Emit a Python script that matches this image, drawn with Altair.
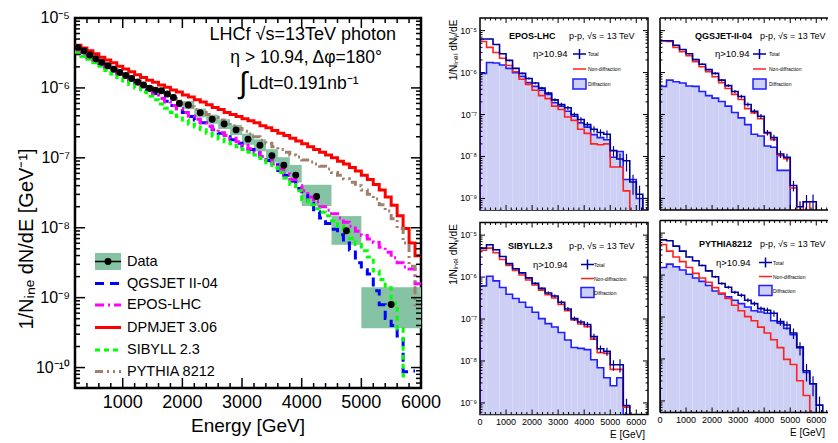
import altair as alt
import pandas as pd

FONT = "Liberation Sans"

# ---------------- Left panel: LHCf photon data ----------------
data_lo = [200, 300, 400, 500, 600, 700, 800, 900, 1000, 1100, 1200, 1300, 1400, 1500, 1600,
           1700, 1800, 1900, 2000, 2200, 2400, 2600, 2800, 3000, 3200, 3400, 3600, 3800,
           4000, 4500, 5000]
data_hi = [300, 400, 500, 600, 700, 800, 900, 1000, 1100, 1200, 1300, 1400, 1500, 1600, 1700,
           1800, 1900, 2000, 2200, 2400, 2600, 2800, 3000, 3200, 3400, 3600, 3800, 4000,
           4500, 5000, 6000]
data_val = [3.80e-6, 3.37e-6, 2.96e-6, 2.61e-6, 2.32e-6, 2.08e-6, 1.85e-6, 1.66e-6, 1.51e-6,
            1.36e-6, 1.22e-6, 1.10e-6, 9.9e-7, 9.3e-7, 9.1e-7, 8.2e-7, 7.3e-7, 6.0e-7,
            5.7e-7, 4.4e-7, 3.57e-7, 3.04e-7, 2.51e-7, 1.85e-7, 1.51e-7, 1.07e-7, 7.85e-8,
            5.66e-8, 2.80e-8, 9.06e-9, 7.96e-10]
sys_up = [0.08, 0.08, 0.08, 0.08, 0.08, 0.08, 0.08, 0.08, 0.08, 0.08, 0.08, 0.08, 0.09, 0.10,
          0.10, 0.10, 0.11, 0.13, 0.14, 0.15, 0.16, 0.17, 0.18, 0.20, 0.22, 0.24, 0.30, 0.40,
          0.47, 0.62, 0.77]
sys_dn = [0.07, 0.07, 0.07, 0.07, 0.07, 0.07, 0.07, 0.07, 0.07, 0.07, 0.07, 0.07, 0.08, 0.09,
          0.09, 0.09, 0.10, 0.12, 0.13, 0.14, 0.14, 0.15, 0.16, 0.17, 0.18, 0.20, 0.22, 0.22,
          0.27, 0.37, 0.54]

# Model predictions, log10(1/N dN/dE), 100 GeV bins from 200 to 6000 GeV
model_first_edge = 200
model_bin = 100
qgsjet = [-5.47, -5.51, -5.56, -5.60, -5.65, -5.70, -5.74, -5.79, -5.84, -5.89,
          -5.93, -5.98, -6.03, -6.08, -6.13, -6.19, -6.25, -6.30, -6.35, -6.41,
          -6.46, -6.50, -6.55, -6.60, -6.65, -6.70, -6.74, -6.79, -6.84, -6.88,
          -6.93, -6.98, -7.04, -7.10, -7.18, -7.25, -7.33, -7.44, -7.52, -7.65,
          -7.77, -7.86, -7.94, -8.02, -8.10, -8.22, -8.32, -8.50, -8.60, -8.66,
          -8.90, -9.10, -9.30, -9.40, -9.55, -10.06, -10.05, None]
epos = [-5.47, -5.52, -5.56, -5.61, -5.66, -5.71, -5.75, -5.80, -5.85, -5.90,
        -5.95, -5.99, -6.04, -6.09, -6.15, -6.20, -6.25, -6.30, -6.35, -6.40,
        -6.45, -6.50, -6.55, -6.59, -6.64, -6.68, -6.72, -6.77, -6.82, -6.87,
        -6.92, -6.98, -7.03, -7.09, -7.16, -7.23, -7.31, -7.40, -7.47, -7.56,
        -7.63, -7.70, -7.75, -7.80, -7.86, -7.92, -7.98, -8.05, -8.11, -8.16,
        -8.21, -8.28, -8.35, -8.43, -8.50, -8.56, -8.59, -8.80]
dpmjet = [-5.39, -5.43, -5.47, -5.51, -5.56, -5.60, -5.64, -5.69, -5.73, -5.77,
          -5.81, -5.85, -5.89, -5.92, -5.96, -5.99, -6.03, -6.06, -6.10, -6.13,
          -6.17, -6.20, -6.24, -6.28, -6.31, -6.35, -6.38, -6.41, -6.44, -6.47,
          -6.50, -6.54, -6.57, -6.61, -6.65, -6.68, -6.72, -6.76, -6.80, -6.84,
          -6.88, -6.92, -6.96, -7.00, -7.05, -7.09, -7.14, -7.19, -7.25, -7.31,
          -7.38, -7.46, -7.56, -7.68, -7.83, -8.01, -8.22, -8.40]
sibyll = [-5.50, -5.55, -5.59, -5.64, -5.69, -5.75, -5.80, -5.85, -5.90, -5.95,
          -6.00, -6.06, -6.12, -6.17, -6.23, -6.29, -6.35, -6.41, -6.46, -6.52,
          -6.56, -6.60, -6.65, -6.69, -6.73, -6.77, -6.80, -6.84, -6.88, -6.92,
          -6.96, -7.01, -7.07, -7.14, -7.21, -7.29, -7.38, -7.47, -7.60, -7.67,
          -7.73, -7.78, -7.83, -7.90, -7.98, -8.06, -8.15, -8.24, -8.33, -8.42,
          -8.62, -8.74, -8.86, -9.08, -9.45, -10.12, None, None]
pythia = [-5.46, -5.50, -5.55, -5.59, -5.64, -5.68, -5.72, -5.77, -5.81, -5.86,
          -5.90, -5.94, -5.99, -6.03, -6.07, -6.11, -6.15, -6.19, -6.23, -6.27,
          -6.31, -6.35, -6.38, -6.42, -6.46, -6.50, -6.54, -6.58, -6.62, -6.66,
          -6.70, -6.75, -6.79, -6.84, -6.88, -6.92, -6.96, -6.99, -7.03, -7.06,
          -7.09, -7.12, -7.16, -7.21, -7.25, -7.30, -7.35, -7.40, -7.46, -7.52,
          -7.59, -7.67, -7.76, -7.87, -8.01, -8.22, -8.55, -9.10]

model_names = ["QGSJET II-04", "EPOS-LHC", "DPMJET 3.06", "SIBYLL 2.3", "PYTHIA 8212"]
model_vals = [qgsjet, epos, dpmjet, sibyll, pythia]
model_colors = ["#0000ff", "#ff00ff", "#ff0000", "#00ff00", "#a0806c"]
model_dash = [[9, 6], [9, 4, 2, 4], [1, 0], [5, 4], [8, 4, 2, 4, 2, 4]]

left_y_ticks = [1e-10, 1e-9, 1e-8, 1e-7, 1e-6, 1e-5]
left_y_labels = ["10⁻¹⁰", "10⁻⁹", "10⁻⁸", "10⁻⁷", "10⁻⁶", "10⁻⁵"]
left_x_ticks = [1000, 2000, 3000, 4000, 5000, 6000]
left_x_labels = ["1000", "2000", "3000", "4000", "5000", "6000"]

# ---------------- Right panels: diffraction contributions ----------------
r_first_edge = 0
r_bin = 250
epos_total = [-5.20, -5.20, -5.33, -5.55, -5.71, -5.90, -6.02, -6.14, -6.25, -6.37, -6.49, -6.65,
              -6.76, -6.84, -7.00, -7.12, -7.24, -7.35, -7.43, -7.47, -7.86, -8.06, -8.10, -8.61,
              -8.90, None]
epos_nondiff = [-5.26, -5.40, -5.52, -5.66, -5.83, -5.98, -6.16, -6.28, -6.42, -6.55, -6.62, -6.80,
                -6.88, -7.06, -7.14, -7.35, -7.45, -7.70, -7.72, -7.70, -8.25, -8.25, -8.82, None,
                None, None]
epos_diff = [-6.02, -5.76, -5.77, -5.82, -5.90, -6.00, -6.09, -6.24, -6.33, -6.42, -6.52, -6.72,
             -6.80, -6.92, -7.04, -7.20, -7.30, -7.48, -7.55, -7.60, -8.02, -7.88, -8.55, -8.55,
             -9.00, None]
qgs_total = [-5.24, -5.24, -5.35, -5.45, -5.55, -5.69, -5.80, -5.93, -6.02, -6.18, -6.31, -6.45,
             -6.57, -6.76, -6.92, -7.04, -7.43, -7.55, -7.94, -8.02, -8.69, -9.20, -9.08, -9.08,
             None, None]
qgs_nondiff = [-5.24, -5.26, -5.40, -5.50, -5.60, -5.74, -5.86, -5.98, -6.10, -6.24, -6.38, -6.52,
               -6.64, -6.86, -6.96, -7.10, -7.45, -7.60, -7.98, -8.05, -8.75, None, -9.08, None,
               None, None]
qgs_diff = [-6.33, -6.18, -6.22, -6.25, -6.32, -6.33, -6.45, -6.55, -6.61, -6.69, -6.80, -6.95,
            -7.08, -7.24, -7.47, -7.51, -7.75, -7.78, -8.33, -8.33, None, None, None, None,
            None, None]
sib_total = [-5.31, -5.23, -5.35, -5.51, -5.68, -5.80, -5.90, -6.02, -6.15, -6.27, -6.38, -6.45,
             -6.60, -6.76, -6.99, -7.07, -7.13, -7.42, -7.71, -7.77, -8.09, -8.09, -9.06, None,
             None, None]
sib_nondiff = [-5.36, -5.31, -5.42, -5.58, -5.72, -5.84, -5.95, -6.07, -6.19, -6.31, -6.42, -6.50,
               -6.65, -6.80, -7.02, -7.12, -7.18, -7.48, -7.80, -7.82, -8.20, -8.20, -9.10, None,
               None, None]
sib_diff = [-6.21, -5.98, -6.09, -6.25, -6.41, -6.51, -6.60, -6.72, -6.84, -6.99, -7.11, -7.19,
            -7.32, -7.50, -7.68, -7.70, -7.73, -7.97, -8.16, -8.40, -8.59, -8.40, None, None,
            None, None]
pyt_total = [-5.16, -5.18, -5.31, -5.43, -5.57, -5.66, -5.77, -5.90, -6.04, -6.20, -6.29, -6.41,
             -6.48, -6.60, -6.68, -6.80, -6.84, -6.91, -7.11, -7.19, -7.38, -7.73, -8.28, -8.59,
             -9.10, None]
pyt_nondiff = [-5.27, -5.43, -5.57, -5.68, -5.82, -5.96, -6.07, -6.17, -6.30, -6.43, -6.56, -6.72,
               -6.85, -6.99, -7.09, -7.24, -7.38, -7.54, -7.73, -8.01, -8.13, -8.52, -8.87, None,
               None, None]
pyt_diff = [-5.82, -5.74, -5.80, -5.88, -5.98, -6.07, -6.15, -6.25, -6.38, -6.45, -6.52, -6.60,
            -6.68, -6.76, -6.85, -6.88, -6.91, -7.09, -7.15, -7.27, -7.42, -7.71, -8.32, -8.59,
            None, None]
total_rel_err = [0.02, 0.02, 0.03, 0.03, 0.04, 0.04, 0.05, 0.05, 0.06, 0.07, 0.08, 0.09, 0.10,
                 0.11, 0.12, 0.13, 0.15, 0.17, 0.20, 0.22, 0.28, 0.35, 0.45, 0.50, 0.60, 0.60]

panel_names = ["EPOS-LHC", "QGSJET-II-04", "SIBYLL2.3", "PYTHIA8212"]
right_y_ticks = [1e-9, 1e-8, 1e-7, 1e-6, 1e-5]
right_y_labels = ["10⁻⁹", "10⁻⁸", "10⁻⁷", "10⁻⁶", "10⁻⁵"]
right_x_ticks = [0, 1000, 2000, 3000, 4000, 5000, 6000]
right_x_labels = ["0", "1000", "2000", "3000", "4000", "5000", "6000"]


# ---------------- helpers ----------------
def steps(vals, first, width, floor=None):
    """Histogram outline; with a floor the outline drops to the axis at run ends."""
    rows = []
    prev = False
    for i, v in enumerate(vals):
        lo = first + i * width
        if v is None:
            if prev and floor is not None:
                rows.append({"x": lo, "y": floor})
            rows.append({"x": lo, "y": None})
            prev = False
        else:
            if not prev and floor is not None:
                rows.append({"x": lo, "y": floor})
            rows.append({"x": lo, "y": 10 ** v})
            rows.append({"x": lo + width, "y": 10 ** v})
            prev = True
    if prev and floor is not None:
        rows.append({"x": first + len(vals) * width, "y": floor})
    df = pd.DataFrame(rows)
    df["k"] = range(len(df))
    return df


def minor_ticks(lo, hi):
    out = []
    for k in range(-12, -4):
        for m in range(2, 10):
            v = m * 10.0 ** k
            if lo < v < hi:
                out.append(v)
    return out


def tick_layers(xs, ys, xmaj, xmin, ymaj, ymin, W, H, lx, lxm, ly, lym, sw, right_side=True):
    out = []
    for vals, L in ((ymaj, ly), (ymin, lym)):
        d = pd.DataFrame({"v": vals})
        out.append(alt.Chart(d).mark_rule(color="black", strokeWidth=sw).encode(
            y=alt.Y("v:Q", scale=ys, axis=None), x=alt.value(0), x2=alt.value(L)))
        if right_side:
            out.append(alt.Chart(d).mark_rule(color="black", strokeWidth=sw).encode(
                y=alt.Y("v:Q", scale=ys, axis=None), x=alt.value(W), x2=alt.value(W - L)))
    for vals, L in ((xmaj, lx), (xmin, lxm)):
        d = pd.DataFrame({"v": vals})
        out.append(alt.Chart(d).mark_rule(color="black", strokeWidth=sw).encode(
            x=alt.X("v:Q", scale=xs, axis=None), y=alt.value(H), y2=alt.value(H - L)))
        out.append(alt.Chart(d).mark_rule(color="black", strokeWidth=sw).encode(
            x=alt.X("v:Q", scale=xs, axis=None), y=alt.value(0), y2=alt.value(L)))
    return out


def ylabels(ys, vals, labs, size, dx):
    d = pd.DataFrame({"v": vals, "lab": labs})
    return alt.Chart(d).mark_text(align="right", baseline="middle", fontSize=size,
                                  font=FONT, color="black").encode(
        y=alt.Y("v:Q", scale=ys, axis=None), x=alt.value(-dx), text="lab:N")


def xlabels(xs, vals, labs, size, y):
    d = pd.DataFrame({"v": vals, "lab": labs})
    return alt.Chart(d).mark_text(align="center", baseline="top", fontSize=size,
                                  font=FONT, color="black").encode(
        x=alt.X("v:Q", scale=xs, axis=None), y=alt.value(y), text="lab:N")


one = pd.DataFrame({"k": [0]})


def txt(s, x, y, size, align="left", weight="normal", color="black", angle=0):
    return alt.Chart(one).mark_text(text=s, align=align, baseline="middle", fontSize=size,
                                    fontWeight=weight, color=color, font=FONT,
                                    angle=angle).encode(
        x=alt.value(x), y=alt.value(y))


def hline(x1, x2, y, color="black", sw=1.5, dash=None):
    kw = {} if dash is None else {"strokeDash": dash}
    return alt.Chart(one).mark_rule(color=color, strokeWidth=sw, **kw).encode(
        x=alt.value(x1), x2=alt.value(x2), y=alt.value(y))


def vline(x, y1, y2, color="black", sw=1.5):
    return alt.Chart(one).mark_rule(color=color, strokeWidth=sw).encode(
        x=alt.value(x), y=alt.value(y1), y2=alt.value(y2))


# ---------------- left chart ----------------
W1, H1 = 346, 370
xs1 = alt.Scale(domain=[200, 6000], nice=False, zero=False)
ys1 = alt.Scale(type="log", domain=[5.1e-11, 1e-5], nice=False)

ddf = pd.DataFrame({"lo": data_lo, "hi": data_hi, "val": data_val, "up": sys_up, "dn": sys_dn})
ddf["e"] = (ddf["lo"] + ddf["hi"]) / 2
ddf["ylo"] = ddf["val"] * (1 - ddf["dn"])
ddf["yhi"] = ddf["val"] * (1 + ddf["up"])

boxes = alt.Chart(ddf).mark_rect(color="#86c2a4", clip=True).encode(
    x=alt.X("lo:Q", scale=xs1, axis=None), x2="hi:Q",
    y=alt.Y("ylo:Q", scale=ys1, axis=None), y2="yhi:Q")

layers1 = [boxes]
for name, vals, col, dash in zip(model_names, model_vals, model_colors, model_dash):
    df = steps(vals, model_first_edge, model_bin)
    layers1.append(alt.Chart(df).mark_line(color=col, strokeWidth=3, strokeDash=dash,
                                           clip=True).encode(
        x=alt.X("x:Q", scale=xs1, axis=None), y=alt.Y("y:Q", scale=ys1, axis=None),
        order="k:Q"))

dots = alt.Chart(ddf).mark_circle(color="black", size=48, opacity=1).encode(
    x=alt.X("e:Q", scale=xs1, axis=None), y=alt.Y("val:Q", scale=ys1, axis=None))
layers1.append(dots)

# legend
leg_data_y = 243.5
leg_rows = [265.5, 287, 309.5, 332, 353.5]
layers1.append(alt.Chart(one).mark_rect(color="#86c2a4").encode(
    x=alt.value(20), x2=alt.value(46), y=alt.value(leg_data_y - 8.5),
    y2=alt.value(leg_data_y + 8.5)))
layers1.append(hline(20, 46, leg_data_y))
layers1.append(alt.Chart(one).mark_circle(color="black", size=48, opacity=1).encode(
    x=alt.value(33), y=alt.value(leg_data_y)))
layers1.append(txt("Data", 52, leg_data_y, 14.5))
for name, col, dash, yy in zip(model_names, model_colors, model_dash, leg_rows):
    layers1.append(hline(20, 46, yy, color=col, sw=3, dash=dash))
    layers1.append(txt(name, 52, yy, 14.5))

# annotation
layers1.append(txt("LHCf √s=13TeV photon", 321, 17, 18, align="right"))
layers1.append(txt("η > 10.94, Δφ=180°", 307, 39.5, 17.5, align="right"))
layers1.append(txt("∫", 168, 66, 30, align="center"))
layers1.append(txt("Ldt=0.191nb⁻¹", 174, 66, 17.5))

# axis labels and titles
layers1.append(ylabels(ys1, left_y_ticks, left_y_labels, 16, 5))
layers1.append(xlabels(xs1, left_x_ticks, left_x_labels, 18, H1 + 6))
layers1.append(txt("Energy [GeV]", W1 / 2, H1 + 38, 19, align="center"))
layers1.append(txt("1/Nᵢₙₑ dN/dE [GeV⁻¹]", -48, 221, 20, align="center", angle=270))

# ticks
ymaj1 = [1e-10, 1e-9, 1e-8, 1e-7, 1e-6]
ymin1 = minor_ticks(5.1e-11, 1e-5)
xmaj1 = [1000, 2000, 3000, 4000, 5000]
xmin1 = [v for v in range(200, 6000, 200) if v % 1000 != 0]
layers1 += tick_layers(xs1, ys1, xmaj1, xmin1, ymaj1, ymin1, W1, H1, 10, 5, 10, 5, 1.5)

left = alt.layer(*layers1).properties(
    width=W1, height=H1, view=alt.ViewBackground(stroke="black", strokeWidth=2.5))

# ---------------- right panels ----------------
W2, H2 = 168, 192
Y2MIN = 5.3e-10
xs2 = alt.Scale(domain=[0, 6450], nice=False, zero=False)
ys2 = alt.Scale(type="log", domain=[Y2MIN, 2e-5], nice=False)
TOTAL_C = "#000099"
DIFF_C = "#1f1fff"
NOND_C = "#ff2020"
FILL_C = "#cdd0f4"


def panel(name, total, nondiff, diff, pos, show_y, show_x, cut_right):
    nx, ppx, etax, mk0, txx, ny, rows = pos
    dd = steps(diff, r_first_edge, r_bin, Y2MIN)
    nd = steps(nondiff, r_first_edge, r_bin, Y2MIN)
    td = steps(total, r_first_edge, r_bin, Y2MIN)
    fill = pd.DataFrame({
        "lo": [r_first_edge + r_bin * i for i in range(len(diff))],
        "hi": [r_first_edge + r_bin * (i + 1) for i in range(len(diff))],
        "v": [None if v is None else 10 ** v for v in diff]}).dropna()
    err = pd.DataFrame({
        "c": [r_first_edge + r_bin * (i + 0.5) for i in range(len(total))],
        "v": [None if v is None else 10 ** v for v in total],
        "e": total_rel_err}).dropna()
    err["lo"] = err["v"] * (1 - err["e"])
    err["hi"] = err["v"] * (1 + err["e"])
    L = []
    L.append(alt.Chart(fill).mark_rect(color=FILL_C, opacity=1, clip=True).encode(
        x=alt.X("lo:Q", scale=xs2, axis=None), x2="hi:Q",
        y=alt.Y("v:Q", scale=ys2, axis=None), y2=alt.datum(Y2MIN)))
    L.append(alt.Chart(dd).mark_line(color=DIFF_C, strokeWidth=1.6, clip=True).encode(
        x=alt.X("x:Q", scale=xs2, axis=None), y=alt.Y("y:Q", scale=ys2, axis=None),
        order="k:Q"))
    L.append(alt.Chart(nd).mark_line(color=NOND_C, strokeWidth=1.6, clip=True).encode(
        x=alt.X("x:Q", scale=xs2, axis=None), y=alt.Y("y:Q", scale=ys2, axis=None),
        order="k:Q"))
    L.append(alt.Chart(td).mark_line(color=TOTAL_C, strokeWidth=1.6, clip=True).encode(
        x=alt.X("x:Q", scale=xs2, axis=None), y=alt.Y("y:Q", scale=ys2, axis=None),
        order="k:Q"))
    L.append(alt.Chart(err).mark_rule(color=TOTAL_C, strokeWidth=1.2, clip=True).encode(
        x=alt.X("c:Q", scale=xs2, axis=None), y=alt.Y("lo:Q", scale=ys2, axis=None),
        y2="hi:Q"))
    # texts
    L.append(txt(name, nx, ny, 9, weight="bold"))
    L.append(txt("p-p, √s = 13 TeV", ppx, ny, 9))
    L.append(txt("η>10.94", etax, rows[0], 9.5))
    # legend
    L.append(hline(mk0, mk0 + 13, rows[0], color=TOTAL_C))
    L.append(vline(mk0 + 6.5, rows[0] - 5, rows[0] + 5, color=TOTAL_C))
    L.append(txt("Total", txx, rows[0], 5))
    L.append(hline(mk0, mk0 + 13, rows[1], color=NOND_C))
    L.append(txt("Non-diffraction", txx, rows[1], 5))
    L.append(alt.Chart(one).mark_rect(color=FILL_C, stroke=DIFF_C, strokeWidth=1.5).encode(
        x=alt.value(mk0), x2=alt.value(mk0 + 13), y=alt.value(rows[2] - 5),
        y2=alt.value(rows[2] + 5)))
    L.append(txt("Diffraction", txx, rows[2], 5))
    if show_y:
        L.append(ylabels(ys2, right_y_ticks, right_y_labels, 9, 3))
        L.append(txt("1/Nᵢₙₑₗ dNᵧ/dE", -26, 32, 10, align="center", angle=270))
    if show_x:
        L.append(xlabels(xs2, right_x_ticks, right_x_labels, 9, H2 + 3))
        L.append(txt("E [GeV]", W2 - 3, H2 + 20, 10, align="right"))
    ymaj2 = [1e-9, 1e-8, 1e-7, 1e-6, 1e-5]
    ymin2 = minor_ticks(Y2MIN, 2e-5)
    xmaj2 = [1000, 2000, 3000, 4000, 5000, 6000]
    xmin2 = [v for v in range(200, 6450, 200) if v % 1000 != 0]
    L += tick_layers(xs2, ys2, xmaj2, xmin2, ymaj2, ymin2, W2, H2, 5, 2.5, 5, 2.5, 1,
                     right_side=not cut_right)
    if cut_right:
        # the picture is cut at its right edge: frame on three sides only
        L.append(hline(0, W2, 0))
        L.append(hline(0, W2, H2))
        L.append(vline(0, 0, H2))
        view = alt.ViewBackground(stroke=None)
    else:
        view = alt.ViewBackground(stroke="black", strokeWidth=1.5)
    return alt.layer(*L).properties(width=W2, height=H2, view=view)


p1 = panel(panel_names[0], epos_total, epos_nondiff, epos_diff,
           (29, 89, 53, 93, 108, 18, [36, 51, 66]), True, False, False)
p2 = panel(panel_names[1], qgs_total, qgs_nondiff, qgs_diff,
           (35, 100, 55, 93, 109, 18, [36, 51, 66]), False, False, True)
p3 = panel(panel_names[2], sib_total, sib_nondiff, sib_diff,
           (28, 89, 53, 101, 114, 23, [42, 56, 70]), True, True, False)
p4 = panel(panel_names[3], pyt_total, pyt_nondiff, pyt_diff,
           (39, 100, 56, 99, 113, 23, [42, 56, 70]), False, True, True)

col2 = alt.vconcat(p1, p3, spacing=8.5)
col3 = alt.vconcat(p2, p4, spacing=8.5)
right = alt.hconcat(col2, col3, spacing=7)

chart = alt.hconcat(left, right, spacing=5).properties(
    padding={"left": 7, "top": 0, "right": 0, "bottom": 0},
    background="white",
).configure(font=FONT)

chart.save("out.html", embed_options={"renderer": "svg", "actions": False})
